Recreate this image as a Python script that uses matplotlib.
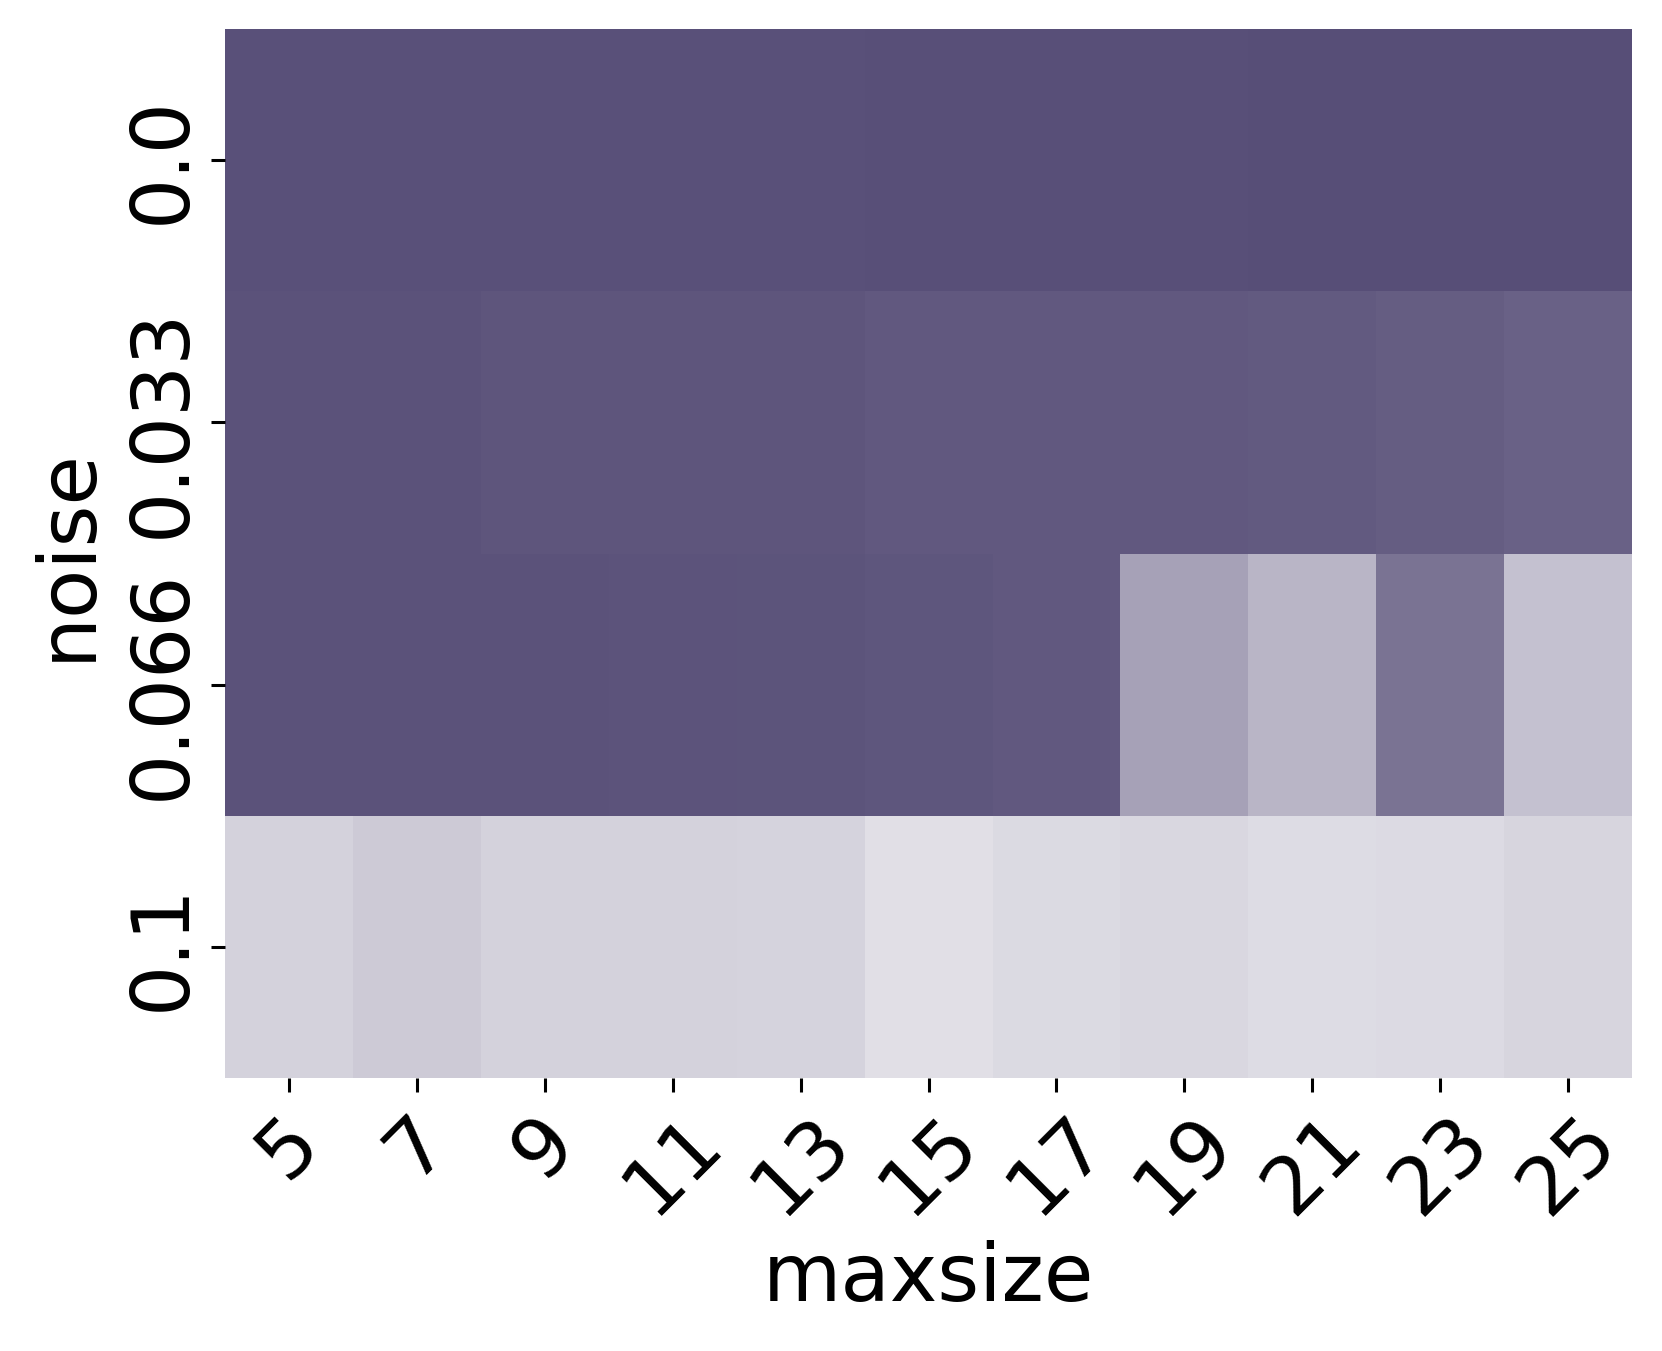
import numpy as np
import matplotlib
matplotlib.use("Agg")
import matplotlib.pyplot as plt
from matplotlib.colors import LinearSegmentedColormap

# heatmap values (estimated score per cell)
maxsize = [5, 7, 9, 11, 13, 15, 17, 19, 21, 23, 25]
noise = ["0.0", "0.033", "0.066", "0.1"]
row_00 = [0.985, 0.985, 0.985, 0.985, 0.985, 0.99, 0.99, 0.99, 1.0, 1.0, 1.0]
row_033 = [0.976, 0.976, 0.96, 0.96, 0.96, 0.94, 0.94, 0.94, 0.93, 0.916, 0.89]
row_066 = [0.976, 0.976, 0.976, 0.97, 0.965, 0.955, 0.94, 0.53, 0.42, 0.79, 0.35]
row_01 = [0.256, 0.30, 0.256, 0.256, 0.25, 0.18, 0.214, 0.23, 0.20, 0.21, 0.24]

values = np.array([row_00, row_033, row_066, row_01])

cmap = LinearSegmentedColormap.from_list("purp", ["#ffffff", "#574e77"])

fig = plt.figure(figsize=(8.31, 6.755), dpi=200)
ax = fig.add_axes([0.1354, 0.202, 0.8466, 0.7765])
ax.pcolormesh(values, cmap=cmap, vmin=0, vmax=1)
ax.set_xlim(0, len(maxsize))
ax.set_ylim(len(noise), 0)

for s in ax.spines.values():
    s.set_visible(False)

ax.set_xticks(np.arange(len(maxsize)) + 0.5)
ax.set_xticklabels([str(m) for m in maxsize], rotation=45, ha="center", fontsize=29)
ax.set_yticks(np.arange(len(noise)) + 0.5)
ax.set_yticklabels(noise, rotation=90, va="center", fontsize=29)
ax.tick_params(length=5, width=1.1, pad=3.5)

ax.set_xlabel("maxsize", fontsize=29)
ax.set_ylabel("noise", fontsize=29, labelpad=6)

fig.savefig("out.png", dpi=200)
